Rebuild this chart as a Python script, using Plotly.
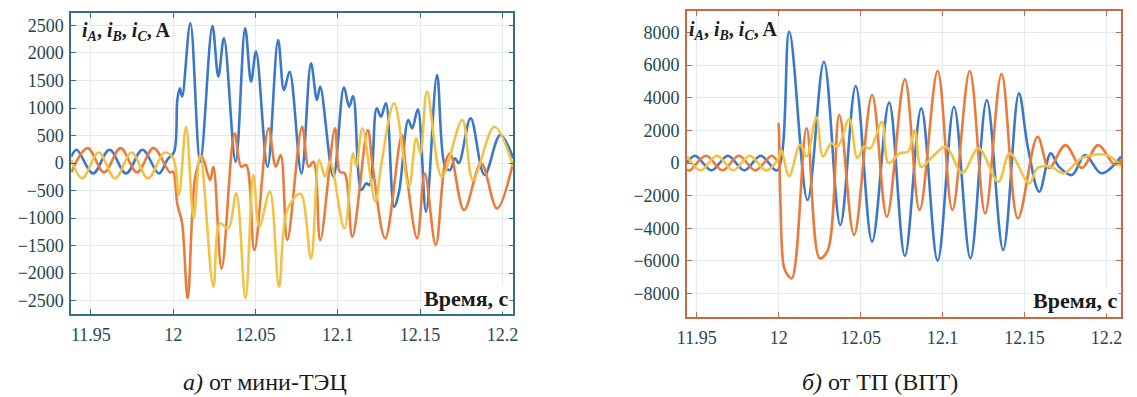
import plotly.graph_objects as go

# ---------------- data: left chart (а) от мини-ТЭЦ) ----------------
tA_L = [11.938, 11.9413, 11.9513, 11.9613, 11.9713, 11.9813, 11.9913, 11.9964, 12.0005, 12.0025,
        12.004, 12.0054, 12.0104, 12.0164, 12.0238, 12.0274, 12.0308, 12.0379, 12.0437, 12.0473,
        12.0503, 12.0573, 12.0637, 12.0673, 12.0707, 12.0779, 12.0837, 12.0873, 12.0893, 12.0973,
        12.1037, 12.1069, 12.1093, 12.1143, 12.1173, 12.1193, 12.1236, 12.1262, 12.1292, 12.1342,
        12.1372, 12.1428, 12.1452, 12.1486, 12.1536, 12.1603, 12.1652, 12.1682, 12.1711, 12.1735,
        12.1807, 12.1891, 12.1987, 12.2066]
iA_L = [110, 240, -190, 240, -190, 240, -190, 60, 200, 1150,
        1357, 1206, 2540, 25, 2490, 1570, 2267, 25, 2450, 1480,
        2024, -67, 2236, 1327, 1660, -188, 1812, 1145, 1388, -250,
        1376, 1024, 1218, -490, -370, -400, 994, 842, 1085, -794,
        -521, 782, 630, 976, -885, 1600, -67, -127, 85, 0,
        812, -218, 509, 85]

tB_L = [11.938, 11.948, 11.958, 11.968, 11.978, 11.988, 11.998, 12.0, 12.0024, 12.0054,
        12.0088, 12.0134, 12.0174, 12.0224, 12.0244, 12.0294, 12.0373, 12.0413, 12.0443, 12.0493,
        12.0579, 12.0623, 12.0653, 12.0693, 12.0783, 12.0823, 12.0853, 12.0893, 12.0983, 12.1012,
        12.1042, 12.1088, 12.1182, 12.1212, 12.1288, 12.1388, 12.1412, 12.1482, 12.1528, 12.1595,
        12.1652, 12.1682, 12.1767, 12.1871, 12.1967, 12.2066]
iB_L = [-170, 270, -170, 270, -170, 270, -170, -158, -733, -1097,
        -2460, -248, 115, -309, -67, -1915, 539, -67, -36, -1582,
        630, -67, 145, -1400, 660, -67, 24, -1400, 630, -158,
        -188, -1340, 600, -67, -1370, 509, -67, -1370, -188, -1490,
        -6, 176, -855, -6, -824, 24]

tC_L = [11.938, 11.9447, 11.9547, 11.9647, 11.9747, 11.9847, 11.9947, 12.0, 12.0034, 12.0078,
        12.0124, 12.0164, 12.0244, 12.0284, 12.0334, 12.0383, 12.0439, 12.0487, 12.0523, 12.0587,
        12.0643, 12.0693, 12.0773, 12.0837, 12.0887, 12.0923, 12.0953, 12.104, 12.1093, 12.1113,
        12.1149, 12.1228, 12.1262, 12.1342, 12.1432, 12.1476, 12.1502, 12.1542, 12.1632, 12.1756,
        12.1821, 12.1951, 12.2066]
iC_L = [60, -280, 190, -280, 190, -280, 190, 85, -582, 660,
        -1000, 150, -2248, -1097, -1188, -552, -2460, -218, -1158, -521,
        -2248, -850, -560, -1733, 55, -248, 24, -1190, 176, -67,
        630, -703, -67, 1085, -430, 448, 176, 1297, -248, 782,
        -309, 660, -67]

# ---------------- data: right chart (б) от ТП (ВПТ)) ----------------
tA_R = [11.944, 11.949, 11.959, 11.969, 11.979, 11.989, 11.999, 12.0064, 12.0176, 12.0276,
        12.0376, 12.047, 12.057, 12.0674, 12.077, 12.087, 12.097, 12.107, 12.117, 12.127,
        12.137, 12.1466, 12.152, 12.159, 12.166, 12.171, 12.179, 12.187, 12.197, 12.209]
iA_R = [0, 450, -450, 450, -450, 450, -450, 8050, -2270, 6210,
        -3800, 4720, -4820, 3700, -5700, 3350, -5990, 3450, -5840, 3860,
        -5330, 4270, 1000, -1760, 590, -225, -740, 490, -630, 390]

tB_R = [11.944, 11.9457, 11.9557, 11.9657, 11.9757, 11.9857, 11.9957, 11.9995, 12.0, 12.001,
        12.003, 12.005, 12.008, 12.017, 12.025, 12.03, 12.037, 12.046, 12.057, 12.066,
        12.077, 12.086, 12.097, 12.106, 12.1166, 12.126, 12.136, 12.146, 12.158, 12.165,
        12.175, 12.185, 12.195, 12.205, 12.209]
iB_R = [-400, -450, 450, -450, 450, -450, 450, 150, 2400, -2200,
        -6300, -6800, -7070, 2130, -5840, -5330, 2940, -4410, 4170, -3290,
        5130, -2880, 5640, -2880, 5640, -3090, 5460, -3390, 1610, -300,
        1100, -300, 1100, -100, 150]

tC_R = [11.944, 11.9523, 11.9623, 11.9723, 11.9823, 11.9923, 12.0, 12.0015, 12.0064, 12.013,
        12.017, 12.023, 12.027, 12.032, 12.036, 12.043, 12.048, 12.052, 12.056, 12.063,
        12.067, 12.074, 12.079, 12.083, 12.087, 12.094, 12.102, 12.112, 12.122, 12.134,
        12.141, 12.153, 12.158, 12.166, 12.174, 12.185, 12.2, 12.209]
iC_R = [420, -450, 450, -450, 450, -450, 300, 800, -800, 1100,
        400, 2800, 400, 1200, 1000, 2700, 300, 1000, 900, 2530,
        0, 600, 700, 2000, -225, 400, 1000, -600, 900, -1150,
        590, -1250, -300, -225, -630, 300, 490, -200]

# ---------------- ticks / labels ----------------
x_ticks = [11.95, 12.0, 12.05, 12.1, 12.15, 12.2]
x_ticklabels = ["11.95", "12", "12.05", "12.1", "12.15", "12.2"]
yL_ticks = [-2500, -2000, -1500, -1000, -500, 0, 500, 1000, 1500, 2000, 2500]
yR_ticks = [-8000, -6000, -4000, -2000, 0, 2000, 4000, 6000, 8000]
y_label = "<b><i>i</i><sub><i>A</i></sub>, <i>i</i><sub><i>B</i></sub>, <i>i</i><sub><i>C</i></sub>, A</b>"
x_label = "<b>Время, с</b>"
caption_left = "<i>а)</i> от мини-ТЭЦ"
caption_right = "<i>б)</i> от ТП (ВПТ)"

W, H = 1137, 397
BLUE, ORANGE, YELLOW = "#3b78c8", "#e97b3c", "#f2c246"
SERIF = "Liberation Serif"
LABEL_C = "#24464f"
GRID_C = "#e1eaef"

fig = go.Figure()
for t, v, col in [(tA_L, iA_L, BLUE), (tB_L, iB_L, ORANGE), (tC_L, iC_L, YELLOW)]:
    fig.add_trace(go.Scatter(x=t, y=v, mode="lines", xaxis="x", yaxis="y",
                             line=dict(color=col, width=2.6, shape="spline", smoothing=1.0),
                             showlegend=False, hoverinfo="skip"))
for t, v, col in [(tA_R, iA_R, BLUE), (tB_R, iB_R, ORANGE), (tC_R, iC_R, YELLOW)]:
    fig.add_trace(go.Scatter(x=t, y=v, mode="lines", xaxis="x2", yaxis="y2",
                             line=dict(color=col, width=2.6, shape="spline", smoothing=1.0),
                             showlegend=False, hoverinfo="skip"))


def px(x):
    return x / W


def py(y):
    return 1 - y / H


def axis_common(linecol, standoff):
    return dict(showline=True, linecolor=linecol, linewidth=1.5, mirror="ticks",
                ticks="inside", ticklen=5, tickcolor=linecol, showgrid=True,
                gridcolor=GRID_C, gridwidth=1, zeroline=False, ticklabelstandoff=standoff,
                tickfont=dict(family=SERIF, size=18, color=LABEL_C))


L_COL = "#34717f"
R_COL = "#c46a46"
fig.update_layout(
    width=W, height=H, margin=dict(l=0, r=0, t=0, b=0),
    paper_bgcolor="white", plot_bgcolor="white",
    font=dict(family=SERIF),
    xaxis=dict(domain=[px(62), px(510)], range=[11.938, 12.2066], anchor="y",
               tickvals=x_ticks, ticktext=x_ticklabels, **axis_common(L_COL, 4)),
    yaxis=dict(domain=[py(314), py(13)], range=[-2745, 2727], anchor="x",
               tickvals=yL_ticks, **axis_common(L_COL, 2)),
    xaxis2=dict(domain=[px(686), px(1126)], range=[11.944, 12.209], anchor="y2",
                tickvals=x_ticks, ticktext=x_ticklabels, **axis_common(R_COL, 4)),
    yaxis2=dict(domain=[py(317), py(11)], range=[-9440, 9320], anchor="x2",
                tickvals=yR_ticks, **axis_common(R_COL, 2)),
)

lab_font = dict(family=SERIF, size=20, color="#1c1c1c")
fig.add_annotation(text=y_label, xref="paper", yref="paper", x=px(71), y=py(31),
                   xanchor="left", yanchor="middle", showarrow=False, font=lab_font)
fig.add_annotation(text=y_label, xref="paper", yref="paper", x=px(686), y=py(30),
                   xanchor="left", yanchor="middle", showarrow=False, font=lab_font)
t_font = dict(family=SERIF, size=22, color="#1c1c1c")
fig.add_annotation(text=x_label, xref="paper", yref="paper", x=px(507), y=py(298),
                   xanchor="right", yanchor="middle", showarrow=False, font=t_font,
                   bgcolor="white", borderpad=0)
fig.add_annotation(text=x_label, xref="paper", yref="paper", x=px(1124), y=py(300),
                   xanchor="right", yanchor="middle", showarrow=False, font=t_font,
                   bgcolor="white", borderpad=0)
cap_font = dict(family=SERIF, size=24, color="#1a1a1a")
fig.add_annotation(text=caption_left, xref="paper", yref="paper", x=px(258), y=py(382),
                   xanchor="center", yanchor="middle", showarrow=False, font=cap_font)
fig.add_annotation(text=caption_right, xref="paper", yref="paper", x=px(882), y=py(382),
                   xanchor="center", yanchor="middle", showarrow=False, font=cap_font)

fig.write_html("out.html")
